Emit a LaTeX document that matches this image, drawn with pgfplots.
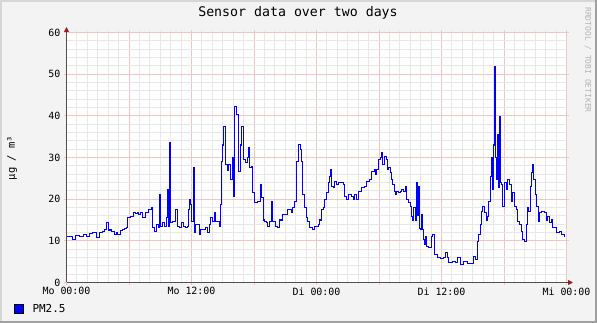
\documentclass[border=0pt]{standalone}
\usepackage{pgfplots}
\pgfplotsset{compat=1.18}
\usepackage{fontspec}
\setmainfont{DejaVu Sans Mono}
\usetikzlibrary{arrows.meta}
\definecolor{rrdback}{HTML}{F3F3F3}
\definecolor{shadea}{HTML}{D6D6D6}
\definecolor{shadeb}{HTML}{A0A0A0}
\definecolor{mgrid}{HTML}{F3C6C6}
\definecolor{ggrid}{HTML}{E8E8E8}
\definecolor{axiscol}{HTML}{55504E}
\definecolor{arrowred}{HTML}{9A1E1E}
\definecolor{wmgray}{HTML}{B4B4B4}
\begin{document}
\begin{tikzpicture}
\useasboundingbox (0,0) rectangle (597bp,323bp);
\fill[rrdback] (0,0) rectangle (597bp,323bp);
\fill[shadea] (0,321bp) rectangle (597bp,323bp);
\fill[shadea] (0,0) rectangle (2bp,323bp);
\fill[shadeb] (0,0) rectangle (597bp,2bp);
\fill[shadeb] (595bp,0) rectangle (597bp,323bp);
\begin{axis}[
  at={(66.5bp,40.5bp)}, anchor=south west,
  width=500bp, height=250bp, scale only axis,
  xmin=0, xmax=48, ymin=0, ymax=60,
  axis background/.style={fill=white},
  xtick={0,6,...,48},
  xticklabels={Mo 00:00,,Mo 12:00,,Di 00:00,,Di 12:00,,Mi 00:00},
  ytick={0,10,...,60},
  minor x tick num=5, minor y tick num=4,
  grid=both,
  major grid style={draw=mgrid, line width=0.9bp},
  minor grid style={draw=ggrid, line width=0.9bp},
  axis line style={draw=none},
  tick align=outside,
  major tick length=2.5bp, minor tick length=2bp,
  major tick style={draw=mgrid, line width=0.9bp},
  minor tick style={draw=ggrid, line width=0.9bp},
  /pgf/number format/assume math mode=true,
  ticklabel style={font=\fontsize{10}{12}\selectfont, text=black},
  xticklabel style={yshift=1bp},
  clip=true,
]
\addplot[const plot, color={rgb,255:red,0;green,0;blue,255}, line width=1.05bp] coordinates {
(0,11.1) (0.29,11.0) (0.58,10.3) (0.86,11.2) (1.25,11.0) (1.63,11.5) (1.92,11.0)
(2.21,11.8) (2.50,12.1) (2.88,10.8) (3.17,12.0) (3.46,12.2) (3.65,12.8) (3.84,14.4)
(4.03,12.6) (4.32,12.3) (4.61,11.6) (4.80,12.0) (4.90,11.5) (5.18,12.4) (5.38,12.7)
(5.57,13.0) (5.76,13.2) (5.86,15.6) (6.14,15.8) (6.43,16.8) (6.62,16.5) (6.82,16.8)
(6.91,16.3) (7.10,16.8) (7.30,15.6) (7.58,16.8) (7.87,17.5) (8.16,18.0) (8.26,13.2)
(8.45,12.2) (8.64,13.9) (8.83,13.2) (8.93,21.1) (9.02,13.4) (9.22,14.4) (9.41,13.4)
(9.60,15.6) (9.70,22.3) (9.79,13.4) (9.89,33.6) (9.98,14.4) (10.18,14.6) (10.46,17.5)
(10.66,13.4) (10.85,13.2) (11.04,14.4) (11.23,13.4) (11.42,13.2) (11.62,13.4) (11.71,17.5)
(11.81,19.9) (11.90,18.7) (12.00,14.6) (12.19,27.6) (12.29,12.0) (12.38,13.9) (12.58,13.9)
(12.77,11.5) (12.86,12.7) (13.15,12.7) (13.34,13.2) (13.54,12.0) (13.73,13.9) (13.82,15.6)
(14.02,14.6) (14.21,16.8) (14.30,14.6) (14.50,14.6) (14.69,13.4) (14.78,18.7) (14.88,29.0)
(14.98,33.0) (15.07,37.4) (15.26,28.3) (15.46,27.0) (15.55,28.3) (15.74,24.7) (15.94,30.0)
(16.03,20.6) (16.13,42.2) (16.32,40.3) (16.51,26.6) (16.70,33.0) (16.80,37.4) (16.90,37.4)
(16.99,29.5) (17.18,28.8) (17.38,30.0) (17.47,32.4) (17.57,27.6) (17.76,27.8) (17.86,21.6)
(18.05,19.2) (18.34,19.4) (18.62,23.5) (18.72,20.4) (18.91,15.0) (19.01,14.6) (19.20,14.4)
(19.30,13.4) (19.49,14.6) (19.68,19.4) (19.78,14.6) (20.06,13.4) (20.26,13.2) (20.45,15.0)
(20.64,15.0) (20.74,16.3) (21.12,16.3) (21.22,17.5) (21.60,16.8) (21.70,18.0) (21.89,19.4)
(22.08,29.0) (22.27,33.1) (22.46,31.9) (22.56,29.0) (22.66,21.1) (22.85,18.0) (23.04,15.6)
(23.14,14.6) (23.33,13.2) (23.62,12.7) (23.81,13.4) (24.19,13.9) (24.29,15.0) (24.48,17.5)
(24.67,18.0) (24.77,19.9) (24.96,21.6) (25.15,24.0) (25.25,25.4) (25.34,27.1) (25.44,23.0)
(25.63,22.8) (25.73,24.2) (25.92,23.5) (26.11,24.0) (26.40,24.0) (26.59,23.5) (26.69,20.6)
(26.88,19.9) (27.07,21.1) (27.36,20.6) (27.55,19.9) (27.65,21.1) (27.84,19.9) (28.03,21.8)
(28.32,22.8) (28.61,23.0) (28.80,24.2) (29.09,24.7) (29.28,26.6) (29.57,27.1) (29.66,25.9)
(29.76,27.1) (29.95,29.5) (30.14,30.0) (30.24,31.2) (30.34,28.3) (30.53,30.2) (30.72,29.5)
(30.82,27.1) (30.91,27.6) (31.10,26.4) (31.20,24.7) (31.30,23.5) (31.49,21.8) (31.58,21.1)
(31.68,21.8) (31.87,21.6) (32.06,21.8) (32.16,22.3) (32.35,21.8) (32.54,23.0) (32.64,19.9)
(32.83,19.2) (33.02,18.2) (33.12,15.8) (33.22,15.0) (33.31,18.0) (33.50,15.0) (33.60,24.0)
(33.70,16.0) (33.79,23.0) (33.89,13.0) (33.98,12.7) (34.08,16.3) (34.18,12.7) (34.27,10.3)
(34.37,9.1) (34.46,11.1) (34.56,8.6) (34.75,8.4) (34.94,8.4) (35.04,11.1) (35.14,11.5)
(35.33,6.7) (35.62,6.0) (35.90,5.8) (36.19,6.0) (36.38,7.2) (36.58,6.0) (36.67,4.8)
(37.06,5.0) (37.34,4.8) (37.54,6.0) (37.82,4.3) (38.11,5.0) (38.50,4.6) (38.78,4.6)
(39.07,6.2) (39.26,5.5) (39.46,9.8) (39.55,11.5) (39.74,13.9) (39.84,17.0) (39.94,18.2)
(40.13,16.8) (40.32,15.0) (40.42,15.8) (40.51,19.4) (40.70,25.4) (40.80,30.0) (40.90,22.3)
(40.99,33.0) (41.09,51.8) (41.18,30.0) (41.28,24.7) (41.38,35.5) (41.47,22.8) (41.57,39.8)
(41.66,24.0) (41.76,23.5) (41.86,18.2) (42.05,24.0) (42.24,22.3) (42.34,24.7) (42.53,23.5)
(42.72,19.4) (42.82,21.6) (43.01,18.2) (43.20,17.5) (43.30,14.6) (43.49,13.9) (43.68,12.2)
(43.78,10.3) (43.97,9.8) (44.16,13.9) (44.26,18.0) (44.35,17.0) (44.54,23.0) (44.64,26.4)
(44.74,28.3) (44.83,24.7) (45.02,21.1) (45.12,18.2) (45.31,14.6) (45.41,16.8) (45.60,17.0)
(45.89,16.8) (46.08,15.0) (46.18,15.8) (46.37,14.4) (46.56,15.0) (46.66,13.2) (47.04,12.0)
(47.33,12.2) (47.52,11.5) (47.81,10.8)
};
\end{axis}
% axes with arrows
\draw[axiscol, line width=1bp, -{Triangle[length=5bp,width=5bp,color=arrowred]}] (66.5bp,40.5bp) -- (66.5bp,296bp);
\draw[axiscol, line width=1bp, -{Triangle[length=5bp,width=5bp,color=arrowred]}] (66.5bp,40.5bp) -- (573bp,40.5bp);
% title
\node[font=\fontsize{13.3}{15}\selectfont] at (298bp,310bp) {Sensor data over two days};
% y label
\node[rotate=90, font=\fontsize{10.5}{12}\selectfont] at (12bp,165bp) {µg / m³};
% watermark
\node[rotate=-90, text=wmgray, font=\fontsize{8}{10}\selectfont] at (588bp,263bp) {RRDTOOL / TOBI OETIKER};
% legend
\fill[blue, draw=black, line width=0.6bp] (14.5bp,10bp) rectangle (23bp,18.5bp);
\node[anchor=west, font=\fontsize{11}{13}\selectfont] at (29bp,14.5bp) {PM2.5};
\end{tikzpicture}
\end{document}
